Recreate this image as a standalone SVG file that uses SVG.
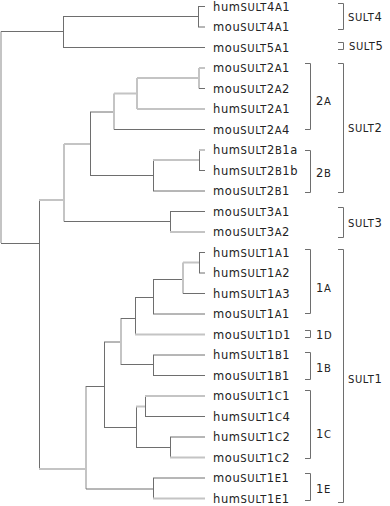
<svg xmlns="http://www.w3.org/2000/svg" width="390" height="506" viewBox="0 0 390 506">
<style>
.d{stroke:#6e6e6e;stroke-width:1;fill:none}
.l{stroke:#c4c4c4;stroke-width:2;fill:none}
.b{stroke:#6e6e6e;stroke-width:1;fill:none}
text{font-family:"DejaVu Sans",sans-serif;font-size:11.5px;fill:#222;letter-spacing:0.6px}
.sc{font-size:10px}
</style>
<rect width="390" height="506" fill="#fff"/>
<g id="connectors">
<!-- root -->
<path class="l" d="M1,31.5V243"/>
<path class="d" d="M1,31.5H63M1,243.5H39"/>
<!-- SULT4/5 -->
<path class="d" d="M63.5,16.5V47.5M63,16.5H198M63,47.5H205"/>
<path class="d" d="M198.5,6.5V27M198,6.5H205M198,27H205"/>
<!-- B -->
<path class="d" d="M39.5,200V469"/>
<path class="l" d="M39,200H64M39,469H86"/>
<!-- C -->
<path class="l" d="M64,144V221.5M64,144H90"/>
<path class="d" d="M64,221.5H170"/>
<path class="d" d="M170.5,211.5V232M170,211.5H205"/>
<path class="l" d="M170,232H205"/>
<!-- SULT2 -->
<path class="d" d="M90.5,112V176M90,112H114M90,175.5H153"/>
<path class="l" d="M114,93.5V129.5M114,93.5H137"/>
<path class="d" d="M114,129.5H205"/>
<path class="l" d="M137,78V109M137,78H199M137,109H205"/>
<path class="l" d="M199,68V88.5M199,68H205"/>
<path class="d" d="M199,88.5H205"/>
<path class="d" d="M153.5,160V191M153,191H205"/>
<path class="l" d="M153,160H199"/>
<path class="d" d="M199.5,150V170.5M199,170.5H205"/>
<path class="l" d="M199,150H205"/>
<!-- SULT1 -->
<path class="l" d="M86,386V489"/>
<path class="d" d="M86,386.5H104M86,489H153"/>
<path class="d" d="M153.5,478V498.5M153,478H205"/>
<path class="l" d="M153,498.5H205"/>
<path class="d" d="M104.5,342V428M104,342H121M104,427.5H136"/>
<path class="d" d="M136.5,406.5V448M136,447.5H170"/>
<path class="l" d="M136,406.5H145"/>
<path class="d" d="M145.5,396V416.5M145,416.5H205"/>
<path class="l" d="M145,396H205"/>
<path class="d" d="M170.5,437V457.5M170,437H205"/>
<path class="l" d="M170,457.5H205"/>
<path class="l" d="M121,318V365"/>
<path class="d" d="M121,318.5H135M121,364.5H153"/>
<path class="d" d="M153.5,355V375.5M153,355H205M153,375.5H205"/>
<path class="d" d="M135.5,297V334.5M135,297.5H153"/>
<path class="l" d="M135,334.5H205"/>
<path class="d" d="M153.5,279V314M153,279.5H183M153,314H205"/>
<path class="l" d="M183,262.5V293.5M183,262.5H199"/>
<path class="d" d="M183,293.5H205"/>
<path class="d" d="M199.5,252.5V273M199,252.5H205M199,273H205"/>
</g>
<g id="brackets">
<path class="b" d="M338,3.5H343.5V29.5H338"/>
<path class="b" d="M338,42.5H343.5V49.5H338"/>
<path class="b" d="M338,63.5H343.5V192.5H338"/>
<path class="b" d="M305,63.5H310.5V129.5H305"/>
<path class="b" d="M305,150.5H310.5V192.5H305"/>
<path class="b" d="M338,207.5H343.5V237.5H338"/>
<path class="b" d="M338,249.5H343.5V502.5H338"/>
<path class="b" d="M305,249.5H310.5V313.5H305"/>
<path class="b" d="M305,330.5H310.5V337.5H305"/>
<path class="b" d="M305,352.5H310.5V379.5H305"/>
<path class="b" d="M305,390.5H310.5V458.5H305"/>
<path class="b" d="M305,473.5H310.5V500.5H305"/>
</g>
<g id="leaves">
<text x="213" y="10.7">hum<tspan class="sc">SULT</tspan>4<tspan class="sc">A</tspan>1</text>
<text x="213" y="31.2">mou<tspan class="sc">SULT</tspan>4<tspan class="sc">A</tspan>1</text>
<text x="213" y="51.7">mou<tspan class="sc">SULT</tspan>5<tspan class="sc">A</tspan>1</text>
<text x="213" y="72.2">mou<tspan class="sc">SULT</tspan>2<tspan class="sc">A</tspan>1</text>
<text x="213" y="92.7">mou<tspan class="sc">SULT</tspan>2<tspan class="sc">A</tspan>2</text>
<text x="213" y="113.2">hum<tspan class="sc">SULT</tspan>2<tspan class="sc">A</tspan>1</text>
<text x="213" y="133.7">mou<tspan class="sc">SULT</tspan>2<tspan class="sc">A</tspan>4</text>
<text x="213" y="154.2">hum<tspan class="sc">SULT</tspan>2<tspan class="sc">B</tspan>1a</text>
<text x="213" y="174.7">hum<tspan class="sc">SULT</tspan>2<tspan class="sc">B</tspan>1b</text>
<text x="213" y="195.2">mou<tspan class="sc">SULT</tspan>2<tspan class="sc">B</tspan>1</text>
<text x="213" y="215.7">mou<tspan class="sc">SULT</tspan>3<tspan class="sc">A</tspan>1</text>
<text x="213" y="236.2">mou<tspan class="sc">SULT</tspan>3<tspan class="sc">A</tspan>2</text>
<text x="213" y="256.7">hum<tspan class="sc">SULT</tspan>1<tspan class="sc">A</tspan>1</text>
<text x="213" y="277.2">hum<tspan class="sc">SULT</tspan>1<tspan class="sc">A</tspan>2</text>
<text x="213" y="297.7">hum<tspan class="sc">SULT</tspan>1<tspan class="sc">A</tspan>3</text>
<text x="213" y="318.2">mou<tspan class="sc">SULT</tspan>1<tspan class="sc">A</tspan>1</text>
<text x="213" y="338.7">mou<tspan class="sc">SULT</tspan>1<tspan class="sc">D</tspan>1</text>
<text x="213" y="359.2">hum<tspan class="sc">SULT</tspan>1<tspan class="sc">B</tspan>1</text>
<text x="213" y="379.7">mou<tspan class="sc">SULT</tspan>1<tspan class="sc">B</tspan>1</text>
<text x="213" y="400.2">mou<tspan class="sc">SULT</tspan>1<tspan class="sc">C</tspan>1</text>
<text x="213" y="420.7">hum<tspan class="sc">SULT</tspan>1<tspan class="sc">C</tspan>4</text>
<text x="213" y="441.2">hum<tspan class="sc">SULT</tspan>1<tspan class="sc">C</tspan>2</text>
<text x="213" y="461.7">mou<tspan class="sc">SULT</tspan>1<tspan class="sc">C</tspan>2</text>
<text x="213" y="482.2">mou<tspan class="sc">SULT</tspan>1<tspan class="sc">E</tspan>1</text>
<text x="213" y="502.7">hum<tspan class="sc">SULT</tspan>1<tspan class="sc">E</tspan>1</text>
</g>
<g id="groups">
<text x="348" y="20.5"><tspan class="sc">SULT</tspan>4</text>
<text x="349" y="50"><tspan class="sc">SULT</tspan>5</text>
<text x="348" y="131.5"><tspan class="sc">SULT</tspan>2</text>
<text x="348" y="226.5"><tspan class="sc">SULT</tspan>3</text>
<text x="348" y="382.5"><tspan class="sc">SULT</tspan>1</text>
<text x="316" y="104.5">2<tspan class="sc">A</tspan></text>
<text x="316" y="176.5">2<tspan class="sc">B</tspan></text>
<text x="316" y="291.5">1<tspan class="sc">A</tspan></text>
<text x="316" y="338.5">1<tspan class="sc">D</tspan></text>
<text x="316" y="371.5">1<tspan class="sc">B</tspan></text>
<text x="316" y="437.5">1<tspan class="sc">C</tspan></text>
<text x="316" y="492.5">1<tspan class="sc">E</tspan></text>
</g>
</svg>
